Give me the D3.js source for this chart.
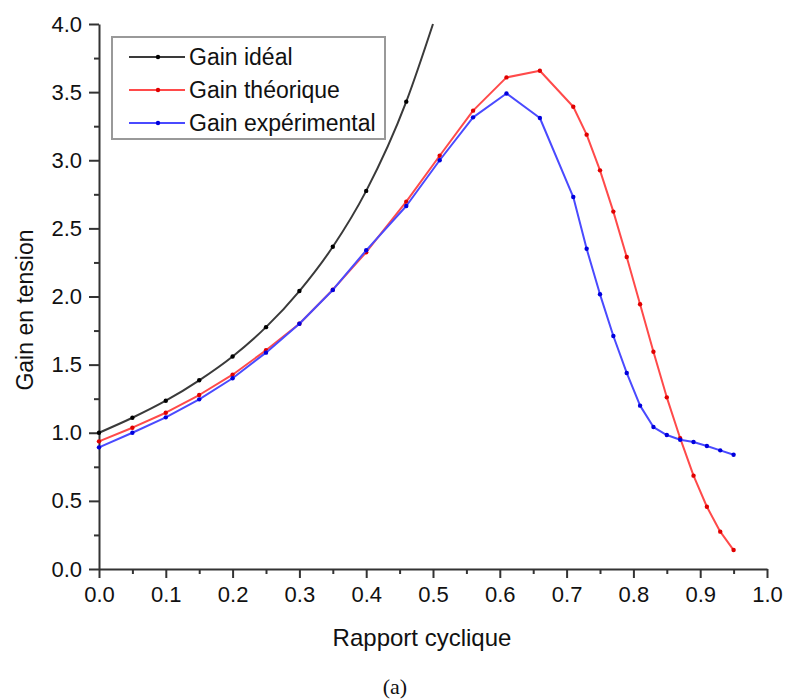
<!DOCTYPE html>
<html>
<head>
<meta charset="utf-8">
<script src="https://cdn.jsdelivr.net/npm/d3@7"></script>
<style>
  html, body { margin: 0; padding: 0; background: #fff; }
  svg { display: block; font-family: "Liberation Sans", Arial, sans-serif; }
</style>
</head>
<body>
<svg id="chart" width="791" height="699"></svg>
<script>
const xTicks = [0, 0.1, 0.2, 0.3, 0.4, 0.5, 0.6, 0.7, 0.8, 0.9, 1.0];
const yTicks = [0, 0.5, 1.0, 1.5, 2.0, 2.5, 3.0, 3.5, 4.0];
const seriesNames = ["Gain idéal", "Gain théorique", "Gain expérimental"];

const dutyIdeal = [0, 0.05, 0.1, 0.15, 0.2, 0.25, 0.3, 0.35, 0.4, 0.46, 0.5];
const gainIdeal = [1.0, 1.11, 1.235, 1.385, 1.56, 1.775, 2.04, 2.365, 2.775, 3.43, 4.0];

const dutyMeas = [0, 0.05, 0.1, 0.15, 0.2, 0.25, 0.3, 0.35, 0.4, 0.46, 0.51, 0.56, 0.61, 0.66, 0.71, 0.73, 0.75, 0.77, 0.79, 0.81, 0.83, 0.85, 0.87, 0.89, 0.91, 0.93, 0.95];
const gainTheo = [0.937, 1.037, 1.147, 1.277, 1.426, 1.605, 1.80, 2.05, 2.325, 2.696, 3.033, 3.364, 3.608, 3.657, 3.393, 3.188, 2.926, 2.623, 2.29, 1.943, 1.595, 1.26, 0.96, 0.685, 0.457, 0.274, 0.139];
const gainExp = [0.893, 1.0, 1.113, 1.245, 1.40, 1.588, 1.80, 2.048, 2.339, 2.664, 3.0, 3.315, 3.49, 3.31, 2.73, 2.35, 2.016, 1.71, 1.439, 1.199, 1.042, 0.983, 0.949, 0.932, 0.903, 0.871, 0.839];

const svg = d3.select("#chart");
const x = d3.scaleLinear().domain([0, 1]).range([99, 767]);
const y = d3.scaleLinear().domain([0, 4]).range([569, 24]);

const fmt = d3.format(".1f");

// minor ticks
svg.append("g").attr("transform", `translate(0,${y(0)})`)
  .call(d3.axisBottom(x).tickValues(d3.range(0.05, 1, 0.1)).tickSize(5).tickFormat(""))
  .call(g => g.select(".domain").remove());
svg.append("g").attr("transform", `translate(${x(0)},0)`)
  .call(d3.axisLeft(y).tickValues(d3.range(0.25, 4, 0.5)).tickSize(5).tickFormat(""))
  .call(g => g.select(".domain").remove());

// major axes
const xAxis = svg.append("g").attr("transform", `translate(0,${y(0)})`)
  .call(d3.axisBottom(x).tickValues(xTicks).tickSize(9).tickSizeOuter(0).tickPadding(8).tickFormat(fmt));
const yAxis = svg.append("g").attr("transform", `translate(${x(0)},0)`)
  .call(d3.axisLeft(y).tickValues(yTicks).tickSize(10).tickSizeOuter(0).tickPadding(7).tickFormat(fmt));

[xAxis, yAxis].forEach(a => {
  a.selectAll("path, line").attr("stroke", "#333").attr("stroke-width", 2);
  a.selectAll("text").attr("fill", "#111").attr("font-family", "Liberation Sans, Arial, sans-serif");
});
xAxis.selectAll("text").attr("font-size", 22);
yAxis.selectAll("text").attr("font-size", 22);
svg.selectAll("g .tick line").attr("stroke", "#333").attr("stroke-width", 2);

// axis titles
svg.append("text").attr("x", 422).attr("y", 646).attr("text-anchor", "middle")
  .attr("font-size", 24).attr("fill", "#111").text("Rapport cyclique");
svg.append("text").attr("transform", "translate(33,310) rotate(-90)").attr("text-anchor", "middle")
  .attr("font-size", 23).attr("fill", "#111").text("Gain en tension");
svg.append("text").attr("x", 395).attr("y", 694).attr("text-anchor", "middle")
  .attr("font-size", 22).attr("font-family", "Liberation Serif, Times New Roman, serif")
  .attr("fill", "#111").text("(a)");

const series = [
  { name: seriesNames[0], xs: dutyIdeal, ys: gainIdeal, line: "#3a3a3a", dot: "#000", curve: d3.curveMonotoneX },
  { name: seriesNames[1], xs: dutyMeas, ys: gainTheo, line: "#ff4a4a", dot: "#e00000", curve: d3.curveLinear },
  { name: seriesNames[2], xs: dutyMeas, ys: gainExp, line: "#4a4aff", dot: "#0000dd", curve: d3.curveLinear }
];

series.forEach(s => {
  const pts = s.xs.map((v, i) => [v, s.ys[i]]);
  const line = d3.line().x(d => x(d[0])).y(d => y(d[1])).curve(s.curve);
  svg.append("path").datum(pts).attr("d", line).attr("fill", "none")
    .attr("stroke", s.line).attr("stroke-width", 2).attr("stroke-linejoin", "round");
  svg.append("g").selectAll("circle").data(pts.filter(d => d[1] < 4)).join("circle")
    .attr("cx", d => x(d[0])).attr("cy", d => y(d[1])).attr("r", 2.2).attr("fill", s.dot);
});

// legend
const lg = svg.append("g");
lg.append("rect").attr("x", 112).attr("y", 37).attr("width", 273).attr("height", 102)
  .attr("fill", "#fff").attr("stroke", "#999").attr("stroke-width", 2);
series.forEach((s, i) => {
  const cy = 57 + i * 33;
  lg.append("line").attr("x1", 129).attr("x2", 185).attr("y1", cy).attr("y2", cy)
    .attr("stroke", s.line).attr("stroke-width", 2);
  lg.append("circle").attr("cx", 158).attr("cy", cy).attr("r", 2.2).attr("fill", s.dot);
  lg.append("text").attr("x", 189).attr("y", cy + 8).attr("font-size", 23).attr("fill", "#111").text(s.name);
});
</script>
</body>
</html>
